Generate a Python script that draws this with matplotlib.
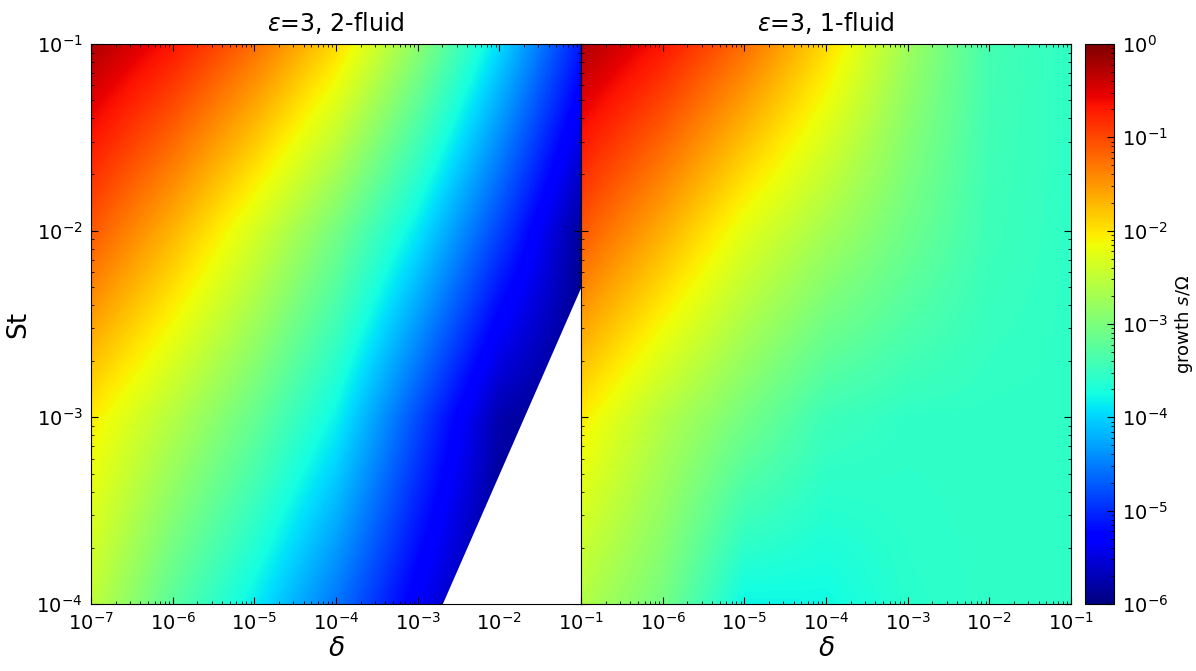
import numpy as np
import matplotlib
matplotlib.use('Agg')
import matplotlib.pyplot as plt
from matplotlib.colors import LogNorm
from matplotlib.cm import ScalarMappable
from matplotlib.ticker import FixedLocator, FuncFormatter

# grid nodes (log10)
log_delta = [-7, -6, -5, -4, -3, -2, -1]
log_st = [-4, -3, -2, -1]

# log10(s/Omega), rows from St=1e-4 (bottom) to St=1e-1 (top)
growth_2fluid = [
    [-2.50, -3.25, -3.85, -4.55, -5.35, -6.00, -6.00],
    [-2.05, -2.59, -3.15, -3.81, -4.80, -5.75, -6.00],
    [-1.10, -1.69, -2.34, -3.04, -3.88, -4.85, -5.85],
    [-0.25, -0.68, -1.24, -1.93, -2.88, -3.95, -5.10],
]
growth_1fluid = [
    [-2.60, -3.05, -3.80, -3.78, -3.60, -3.55, -3.55],
    [-2.05, -2.60, -3.05, -3.45, -3.55, -3.55, -3.55],
    [-1.10, -1.65, -2.25, -2.70, -3.10, -3.45, -3.55],
    [-0.25, -0.68, -1.24, -1.93, -2.75, -3.40, -3.55],
]

# edge of the stable (white) zone in the 2-fluid case
stable_log_delta = [-2.7, -1.0]
stable_log_st = [-4.0, -2.3]

titles = [r'$\varepsilon$=3, 2-fluid', r'$\varepsilon$=3, 1-fluid']

fig = plt.figure(figsize=(11.96, 6.71), dpi=100)
ax1 = fig.add_axes([91/1196, 67/671, 490/1196, 560/671])
ax2 = fig.add_axes([581/1196, 67/671, 490/1196, 560/671])
cax = fig.add_axes([1085/1196, 67/671, 29/1196, 560/671])

dx = (log_delta[1] - log_delta[0]) / 2
dy = (log_st[1] - log_st[0]) / 2
ext = (log_delta[0] - dx, log_delta[-1] + dx, log_st[0] - dy, log_st[-1] + dy)

minor = [n + np.log10(k) for n in range(-7, 0) for k in range(2, 10)]

for i, (ax, vals) in enumerate([(ax1, growth_2fluid), (ax2, growth_1fluid)]):
    ax.imshow(np.array(vals), origin='lower', extent=ext, cmap='jet',
              vmin=-6, vmax=0, interpolation='bilinear',
              interpolation_stage='data', aspect='auto')
    if i == 0:
        ax.fill_between(stable_log_delta, stable_log_st, -4.0,
                        color='white', lw=0, zorder=2)
    ax.set_xlim(-7, -1)
    ax.set_ylim(-4, -1)
    ax.xaxis.set_major_locator(FixedLocator(range(-7, 0)))
    ax.yaxis.set_major_locator(FixedLocator(range(-4, 0)))
    ax.xaxis.set_minor_locator(FixedLocator([m for m in minor if m < -1]))
    ax.yaxis.set_minor_locator(FixedLocator([m for m in minor if -4 < m < -1]))
    if i == 0:
        ax.xaxis.set_major_formatter(FuncFormatter(lambda v, p: r'$10^{%d}$' % round(v)))
    else:
        ax.xaxis.set_major_formatter(FuncFormatter(
            lambda v, p: '' if round(v) == -7 else r'$10^{%d}$' % round(v)))
    ax.yaxis.set_major_formatter(FuncFormatter(lambda v, p: r'$10^{%d}$' % round(v)))
    ax.tick_params(which='both', direction='in', top=True, right=True,
                   labelsize=14, pad=6)
    ax.tick_params(which='major', length=5, width=0.8)
    ax.tick_params(which='minor', length=2.5, width=0.6)
    ax.set_title(titles[i], fontsize=17, pad=9)
    ax.set_xlabel(r'$\delta$', fontsize=19, labelpad=1)

ax1.set_ylabel('St', fontsize=19, labelpad=4)
ax2.tick_params(labelleft=False)

sm = ScalarMappable(norm=LogNorm(1e-6, 1), cmap='jet')
cb = fig.colorbar(sm, cax=cax)
cb.ax.tick_params(which='both', direction='in', labelsize=14, pad=6)
cb.ax.tick_params(which='major', length=5)
cb.ax.tick_params(which='minor', length=2.5)
cb.ax.xaxis.set_visible(False)
cb.set_label(r'growth $s/\Omega$', fontsize=13, labelpad=3)

fig.savefig('out.png', dpi=100)
